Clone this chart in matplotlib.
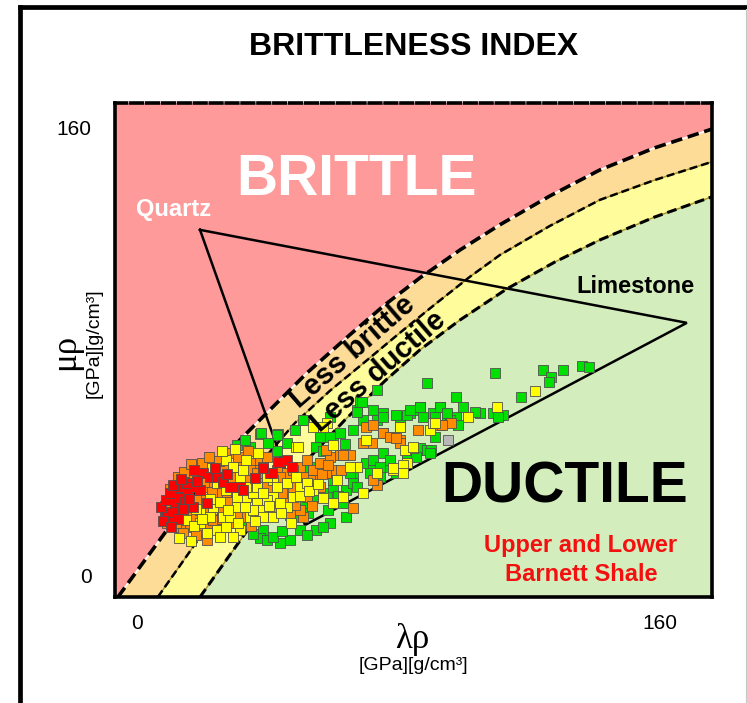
import matplotlib
matplotlib.use("Agg")
import matplotlib.pyplot as plt
from matplotlib.lines import Line2D

plt.rcParams['font.family'] = ['Liberation Sans', 'DejaVu Sans']

# ---- facies boundaries, lambda*rho vs mu*rho ----
BRITTLE_EDGE_X = [-5.8, 0.9, 9.2, 19.3, 31.5, 42.2, 52.0, 65.1, 75.8, 86.5, 98.8, 111.0,
                  126.3, 141.6, 158.4, 175.9]
BRITTLE_EDGE_Y = [-7.5, 3.2, 16.4, 31.8, 48.6, 61.1, 72.5, 86.1, 96.8, 106.4, 116.4, 125.4,
                  135.7, 145.0, 152.9, 159.6]
MID_EDGE_X = [6.4, 13.1, 19.3, 34.6, 48.3, 59.0, 69.7, 80.4, 91.7, 101.8, 111.0, 126.3,
              141.6, 158.4, 175.9]
MID_EDGE_Y = [-7.5, 3.6, 13.9, 36.1, 54.6, 66.1, 76.4, 86.8, 97.5, 106.8, 114.6, 125.0,
              134.3, 141.4, 147.9]
DUCTILE_EDGE_X = [19.3, 26.9, 36.7, 49.8, 63.6, 75.8, 86.5, 98.8, 113.1, 127.8, 141.6,
                  158.4, 175.9]
DUCTILE_EDGE_Y = [-7.5, 5.0, 21.1, 38.6, 55.7, 69.6, 80.7, 91.4, 102.5, 112.1, 120.0,
                  128.2, 135.4]

# ---- mineral end members ----
QUARTZ = (19.3, 123.6)
LIMESTONE = (168.2, 90.4)
CLAY = (51.4, 18.2)

# ---- Barnett Shale samples ----
RED = [(8.6, 21.8), (10.6, 21.2), (9.1, 23.0), (11.6, 26.0), (12.1, 30.7), (13.1, 31.9),
       (15.2, 33.1), (16.7, 31.9), (13.1, 27.7), (14.7, 26.5), (15.7, 29.5), (18.2, 31.9),
       (20.3, 36.7), (22.3, 35.5), (24.4, 35.5), (26.4, 33.7), (28.4, 31.9), (31.5, 31.9),
       (32.5, 30.7), (40.7, 36.7), (43.7, 40.8), (45.8, 41.4), (47.3, 39.0), (21.3, 26.0),
       (17.2, 24.8), (12.1, 23.0), (19.3, 30.7), (43.2, 40.8), (41.2, 36.7), (7.5, 24.5),
       (9.0, 27.0), (10.0, 29.5), (11.0, 32.5), (8.0, 19.5), (12.5, 20.5), (14.0, 24.0),
       (16.0, 27.5), (18.5, 34.0), (10.5, 17.5), (13.5, 34.5), (17.5, 38.0), (24.0, 38.5),
       (27.5, 36.5), (36.0, 35.0), (38.5, 38.5)]

ORANGE = [(11.1, 26.0), (10.1, 19.4), (14.2, 18.8), (16.2, 17.6), (19.3, 16.4), (22.3, 18.8),
          (17.2, 35.5), (19.3, 28.3), (23.3, 35.5), (26.4, 37.9), (31.5, 39.0), (35.6, 40.2),
          (37.6, 41.4), (39.7, 42.6), (42.7, 37.9), (45.8, 36.7), (49.8, 39.0), (51.9, 41.4),
          (54.9, 34.3), (62.1, 43.2), (65.1, 43.2), (70.2, 53.3), (71.8, 47.4), (75.3, 51.0),
          (78.4, 49.8), (80.4, 48.6), (73.3, 32.5), (66.2, 24.2), (50.9, 21.2), (46.8, 21.8),
          (25.4, 31.9), (27.4, 28.3), (29.5, 35.5), (33.5, 34.3), (36.6, 33.1), (24.4, 27.1),
          (20.3, 23.0), (15.2, 22.4), (13.1, 17.6), (17.2, 21.2), (34.6, 37.9), (39.7, 31.9),
          (43.7, 31.9), (47.8, 31.9), (52.9, 34.3), (56.0, 31.9), (51.9, 28.3), (49.8, 23.6),
          (32.5, 21.2), (41.7, 23.6), (60.0, 37.9), (59.0, 42.6), (53.9, 37.9), (45.8, 27.1),
          (29.5, 18.8), (86.0, 52.1), (92.7, 53.9), (96.2, 54.5), (80.4, 47.4), (72.3, 53.9),
          (75.3, 51.0), (77.4, 49.8), (79.4, 49.2), (93.2, 53.9), (69.2, 47.4), (57.9, 45.0),
          (63.1, 43.2), (53.9, 37.9), (57.9, 36.7), (72.3, 34.3), (15.2, 29.5), (18.2, 27.1),
          (21.3, 31.9), (24.4, 29.5), (29.5, 30.7), (32.5, 26.0), (36.6, 36.7), (38.6, 39.0),
          (43.7, 35.5), (47.8, 37.9), (50.9, 35.5), (56.0, 40.2), (12.1, 18.8), (9.1, 18.8),
          (16.2, 24.8), (23.3, 20.0), (26.4, 17.6), (37.6, 28.3), (8.5, 25.0), (10.0, 31.0),
          (12.5, 35.5), (14.5, 37.0), (16.5, 40.0), (20.0, 40.5), (22.0, 42.5), (25.0, 41.0),
          (28.5, 44.0), (31.0, 42.5), (34.0, 44.5), (20.5, 33.5), (23.0, 30.0), (26.0, 24.0),
          (28.0, 26.5), (30.5, 21.5), (35.0, 18.0), (11.5, 22.5), (14.0, 15.5), (18.0, 14.5),
          (21.5, 13.0), (26.0, 20.5), (44.5, 29.5), (48.5, 25.5), (53.5, 25.0), (56.5, 36.5),
          (58.5, 39.5), (62.5, 38.0)]

YELLOW = [(19.3, 23.6), (23.3, 24.8), (26.4, 21.2), (30.5, 24.8), (33.5, 28.3), (36.6, 26.0),
          (38.6, 23.6), (41.7, 28.3), (45.8, 24.8), (24.4, 16.4), (27.4, 17.6), (21.3, 15.2),
          (31.5, 16.4), (34.6, 21.2), (48.8, 46.2), (53.9, 53.3), (58.0, 54.5), (60.0, 46.8),
          (61.1, 34.3), (67.2, 39.0), (70.2, 48.6), (80.4, 53.3), (84.5, 45.6), (82.5, 40.2),
          (78.4, 37.9), (69.2, 29.5), (63.1, 28.3), (27.4, 41.4), (29.5, 39.0), (31.5, 35.5),
          (35.6, 29.5), (39.7, 27.1), (43.7, 26.0), (47.8, 28.3), (49.8, 31.9), (35.6, 23.6),
          (28.4, 21.2), (22.3, 21.2), (19.3, 18.8), (38.7, 21.2), (41.7, 34.3), (33.5, 31.9),
          (53.9, 30.7), (60.0, 26.0), (121.7, 66.2), (110.0, 60.2), (101.3, 56.7), (89.6, 52.1),
          (90.6, 54.5), (84.5, 45.6), (82.0, 45.0), (81.4, 39.6), (91.1, 54.5), (80.4, 53.3),
          (84.5, 46.2), (49.3, 46.2), (56.9, 53.3), (65.2, 39.0), (73.3, 36.7), (78.4, 38.5),
          (81.4, 36.7), (24.4, 33.1), (27.4, 30.7), (30.5, 28.3), (32.5, 37.9), (36.6, 31.9),
          (39.7, 35.5), (42.7, 31.9), (45.8, 33.1), (48.8, 35.5), (51.9, 33.1), (41.7, 21.2),
          (29.5, 14.0), (25.4, 14.0), (15.0, 20.0), (17.5, 18.0), (20.0, 20.5), (22.5, 27.5),
          (25.5, 26.5), (28.0, 23.5), (31.0, 19.0), (33.0, 24.5), (36.0, 19.5), (38.5, 29.5),
          (40.5, 25.0), (44.0, 22.5), (47.0, 19.0), (50.0, 28.5), (52.5, 30.5), (55.5, 33.0),
          (57.0, 28.0), (23.0, 38.5), (26.0, 44.5), (30.0, 45.5), (33.5, 41.5), (37.0, 44.0),
          (18.0, 24.0), (13.0, 13.5), (16.5, 12.5)]

GREEN = [(30.5, 46.8), (34.6, 46.0), (37.6, 50.7), (43.2, 50.7), (51.1, 55.7), (42.7, 44.8),
         (38.6, 16.4), (37.6, 13.5), (39.7, 12.9), (43.7, 11.7), (46.8, 12.9), (49.8, 16.4),
         (52.4, 22.4), (54.9, 28.3), (58.0, 29.5), (60.0, 31.9), (64.1, 30.7), (66.2, 35.5),
         (70.2, 40.2), (72.3, 41.4), (75.3, 43.8), (77.4, 39.0), (79.4, 36.7), (81.4, 39.0),
         (84.5, 43.8), (86.5, 45.0), (66.2, 52.1), (69.2, 55.7), (73.3, 55.7), (75.3, 58.1),
         (67.2, 59.3), (68.2, 62.3), (73.3, 66.4), (80.4, 56.9), (83.5, 58.1), (86.5, 59.3),
         (56.0, 49.8), (60.0, 49.8), (50.9, 26.0), (53.9, 28.3), (47.8, 21.2), (33.5, 20.0),
         (54.9, 16.4), (59.0, 18.8), (64.1, 21.2), (63.1, 26.0), (66.2, 33.1), (72.3, 37.9),
         (74.3, 35.5), (59.0, 56.9), (41.7, 14.0), (88.6, 68.8), (109.5, 72.4), (124.3, 73.6),
         (130.4, 73.6), (136.0, 75.0), (138.3, 74.5), (126.8, 71.2), (126.1, 69.4),
         (117.6, 64.0), (97.7, 64.0), (99.8, 60.5), (104.9, 58.1), (103.3, 58.7), (92.7, 60.5),
         (86.5, 60.5), (90.6, 58.1), (82.5, 57.5), (87.6, 56.9), (94.7, 57.5), (97.7, 56.9),
         (109.0, 58.1), (112.0, 57.5), (110.5, 56.7), (91.1, 49.8), (86.5, 45.6), (88.6, 45.0),
         (90.1, 45.0), (83.5, 43.2), (82.5, 42.6), (98.3, 53.9), (95.7, 55.7), (68.7, 62.3),
         (67.2, 58.7), (72.3, 59.3), (75.3, 56.9), (79.4, 57.5), (83.5, 59.3), (86.6, 60.5),
         (92.7, 60.5), (91.1, 56.9), (94.7, 58.1), (62.1, 51.0), (59.0, 49.8), (54.9, 46.2),
         (50.9, 55.7), (38.1, 51.0), (42.7, 50.4), (52.9, 39.0), (60.0, 34.3), (65.1, 36.7),
         (67.2, 31.9), (71.3, 36.7), (74.3, 39.0), (77.4, 41.4), (82.5, 41.4), (85.5, 42.6),
         (89.6, 43.8), (33.0, 48.5), (40.0, 47.5), (46.0, 47.5), (48.5, 52.0), (57.0, 17.5),
         (52.0, 14.5), (44.5, 16.0), (35.5, 15.0), (58.5, 23.5), (61.5, 28.5), (57.0, 44.5),
         (63.5, 47.0)]

GRAY = [(95.2, 48.6)]

X_TICKS = [0, 160]
Y_TICKS = [0, 160]

PINK = '#FE9A9A'
ORANGE_BAND = '#FDDC98'
YELLOW_BAND = '#FFFC9C'
GREEN_BAND = '#D3EDBC'

W, H = 747, 703
fig = plt.figure(figsize=(W / 100, H / 100), dpi=100)
fig.patch.set_facecolor('white')

ax = fig.add_axes([115 / W, 1 - 597 / H, 597 / W, 494 / H])
XMIN, XMAX = -6.7, 175.9
YMIN, YMAX = -7.5, 168.9
ax.set_xlim(XMIN, XMAX)
ax.set_ylim(YMIN, YMAX)
ax.set_facecolor(PINK)


def fill_below(xs, ys, color):
    px = list(xs) + [XMAX, XMAX]
    py = list(ys) + [YMIN, YMIN]
    ax.fill(px, py, color=color, lw=0, zorder=1)


fill_below(BRITTLE_EDGE_X, BRITTLE_EDGE_Y, ORANGE_BAND)
fill_below(MID_EDGE_X, MID_EDGE_Y, YELLOW_BAND)
fill_below(DUCTILE_EDGE_X, DUCTILE_EDGE_Y, GREEN_BAND)

dash = (0, (3.2, 1.6))
ax.plot(BRITTLE_EDGE_X, BRITTLE_EDGE_Y, color='white', lw=1.2, zorder=2)
ax.plot(BRITTLE_EDGE_X, BRITTLE_EDGE_Y, color='black', lw=2.6, ls=dash, zorder=2)
ax.plot(MID_EDGE_X, MID_EDGE_Y, color='#A89020', lw=1.0, zorder=2)
ax.plot(MID_EDGE_X, MID_EDGE_Y, color='black', lw=1.8, ls=dash, zorder=2)
ax.plot(DUCTILE_EDGE_X, DUCTILE_EDGE_Y, color='#A89020', lw=1.0, zorder=2)
ax.plot(DUCTILE_EDGE_X, DUCTILE_EDGE_Y, color='black', lw=2.2, ls=dash, zorder=2)

# ternary triangle
tri = [QUARTZ, LIMESTONE, CLAY, QUARTZ]
ax.plot([p[0] for p in tri], [p[1] for p in tri], color='black', lw=1.8,
        solid_joinstyle='miter', zorder=3)


def scatter(points, color):
    xs, ys = zip(*points)
    ax.scatter(xs, ys, marker='s', s=50, c=color, edgecolors='#505050',
               linewidths=0.6, zorder=4)


scatter(GREEN, '#00E000')
scatter(GRAY, '#B8B8B8')
scatter(ORANGE, '#FF8C00')
scatter(YELLOW, '#FFFF00')
scatter(RED, '#FF0000')

# region labels
ax.text(67.3, 136.1, 'BRITTLE', color='white', fontsize=41, fontweight='bold',
        ha='center', va='baseline', zorder=6)
ax.text(130.7, 26.1, 'DUCTILE', color='black', fontsize=41, fontweight='bold',
        ha='center', va='baseline', zorder=6)
ax.text(11.3, 128.6, 'Quartz', color='white', fontsize=17, fontweight='bold',
        ha='center', va='baseline', zorder=6)
ax.text(152.4, 101.2, 'Limestone', color='black', fontsize=17, fontweight='bold',
        ha='center', va='baseline', zorder=6)
ax.text(135.8, 8.6, 'Upper and Lower', color='#F21010', fontsize=17, fontweight='bold',
        ha='center', va='baseline', zorder=6)
ax.text(135.8, -1.8, 'Barnett Shale', color='#F21010', fontsize=17, fontweight='bold',
        ha='center', va='baseline', zorder=6)
ax.text(65.8, 80.0, 'Less brittle', color='black', fontsize=21, fontweight='bold',
        rotation=41, rotation_mode='anchor', ha='center', va='center', zorder=6)
ax.text(73.7, 72.9, 'Less ductile', color='black', fontsize=21, fontweight='bold',
        rotation=41, rotation_mode='anchor', ha='center', va='center', zorder=6)

# axes frame and ticks
for side, sp in ax.spines.items():
    sp.set_color('black')
    sp.set_linewidth(2.6)
    sp.set_zorder(7)
ax.spines['top'].set_linestyle((0, (3.2, 1.2)))
ax.set_xticks(X_TICKS)
ax.set_yticks(Y_TICKS)
ax.set_xticklabels([str(v) for v in X_TICKS])
ax.set_yticklabels([str(v) for v in Y_TICKS])
ax.tick_params(axis='both', length=0, labelsize=15)
ax.tick_params(axis='x', pad=12)
ax.tick_params(axis='y', pad=17)

# axis titles
fig.text(66 / W, 1 - 352 / H, '\u03bc\u03c1', rotation=90, fontsize=25,
         family=['Liberation Serif', 'DejaVu Serif'], ha='center', va='center')
fig.text(94 / W, 1 - 343 / H, '[GPa][g/cm\u00b3]', rotation=90, fontsize=14,
         ha='center', va='center')
fig.text(412 / W, 1 - 640 / H, '\u03bb\u03c1', fontsize=25,
         family=['Liberation Serif', 'DejaVu Serif'], ha='center', va='center')
fig.text(413 / W, 1 - 665 / H, '[GPa][g/cm\u00b3]', fontsize=14,
         ha='center', va='center')

# title
fig.text(414 / W, 1 - 55 / H, 'BRITTLENESS INDEX', fontsize=23, fontweight='bold',
         ha='center', va='baseline')

# outer frame
fig.add_artist(Line2D([20 / W, 20 / W], [0, 1 - 7 / H], color='black', lw=3.4,
                      transform=fig.transFigure, solid_capstyle='projecting'))
fig.add_artist(Line2D([20 / W, 1], [1 - 7 / H, 1 - 7 / H], color='black', lw=3.4,
                      transform=fig.transFigure, solid_capstyle='projecting'))
fig.add_artist(Line2D([746 / W, 746 / W], [0, 1 - 9 / H], color='#C8C8C8', lw=0.8,
                      transform=fig.transFigure))

fig.savefig('out.png', dpi=100)
